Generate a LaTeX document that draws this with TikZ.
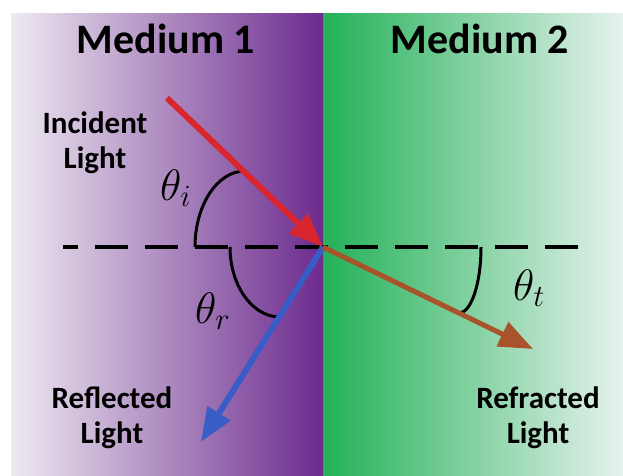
\RequirePackage{fix-cm}
\documentclass[tikz,border=0pt]{standalone}
\usepackage{fontspec}
\setmainfont{Carlito}
\usepackage{tikz}
\usetikzlibrary{arrows.meta, positioning, calc}
\definecolor{lilaclaro}{HTML}{EEE9F1}
\definecolor{lilacmedio}{HTML}{C0A0D0}
\definecolor{lilacoscuro}{HTML}{6C2B8E}
\definecolor{verdeoscuro}{HTML}{23B157}
\definecolor{verdemedio}{HTML}{74C89B}
\definecolor{verdeclaro}{HTML}{E6F2EE}
\definecolor{rayorojo}{HTML}{D9262E}
\definecolor{rayoazul}{HTML}{3A5CC6}
\definecolor{rayomarron}{HTML}{A8532A}
\tikzset{
  medio/.style={font=\fontsize{42}{48}\selectfont\bfseries, anchor=base, inner sep=0pt},
  rotulo/.style={font=\fontsize{31}{35}\selectfont\bfseries, align=center, inner sep=0pt},
  angulo/.style={font=\fontsize{44}{50}\selectfont, anchor=base west, inner sep=0pt},
  rayo/.style={line width=6pt, -{Triangle[length=34pt,width=26pt]}},
  normal/.style={line width=4pt, dash pattern=on 33pt off 17pt, dash phase=18pt},
  arco/.style={line width=3pt},
}

\begin{document}
\begin{tikzpicture}[x=1pt, y=-1pt]
  \useasboundingbox (0,0) rectangle (623,475);
  \fill[white] (0,0) rectangle (623,475);
  % the two media
  \shade[left color=lilaclaro, middle color=lilacmedio, right color=lilacoscuro] (11,13) rectangle (323,475);
  \shade[left color=verdeoscuro, middle color=verdemedio, right color=verdeclaro] (323,13) rectangle (623,475);
  \node[medio] (m1) at (166,53) {Medium 1};
  \node[medio] (m2) at (480,53) {Medium 2};
  % normal and angles
  \coordinate (hit) at (323,247);
  \coordinate (nl) at (63,247);
  \coordinate (nr) at (583,247);
  \draw[normal] (nl) -- (nr);
  \draw[arco] (195,247) arc[start angle=180, end angle=270, x radius=50, y radius=76];
  \draw[arco] (230,247) arc[start angle=180, end angle=90, x radius=50, y radius=70];
  \draw[arco] (481,247) arc[start angle=0, end angle=90, x radius=22, y radius=66];
  \node[angulo] (ti) at (160,200) {$\theta_i$};
  \node[angulo] (tr) at (195,323) {$\theta_r$};
  \node[angulo] (tt) at (513,300) {$\theta_t$};
  % rays
  \coordinate (src) at (167,98);
  \coordinate (refl) at (201,442);
  \coordinate (refr) at (533,349);
  \draw[rayo, rayorojo] (src) -- (hit);
  \draw[rayo, rayoazul] (hit) -- (refl);
  \draw[rayo, rayomarron, line width=5pt] (hit) -- (refr);
  \node[rotulo] (inc) at (95,143) {Incident\\Light};
  \node[rotulo] (rfl) at (112,418) {Reflected\\Light};
  \node[rotulo] (rfr) at (538,418) {Refracted\\Light};
\end{tikzpicture}
\end{document}
